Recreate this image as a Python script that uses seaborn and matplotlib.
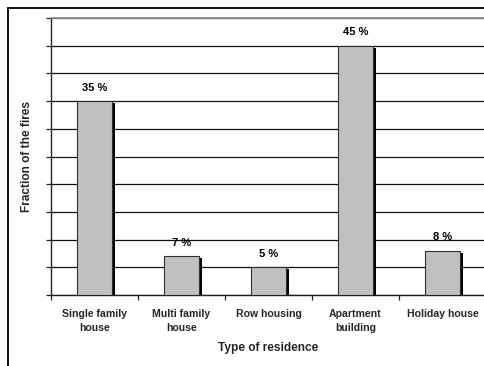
import matplotlib
matplotlib.use("Agg")
import matplotlib.pyplot as plt
import matplotlib.patheffects as pe
from matplotlib.patches import Rectangle
import seaborn as sns
import pandas as pd
import numpy as np

categories = ["Single family\nhouse", "Multi family\nhouse", "Row housing",
              "Apartment\nbuilding", "Holiday house"]
shares = [35, 7, 5, 45, 8]
value_labels = ["35 %", "7 %", "5 %", "45 %", "8 %"]

df = pd.DataFrame({"residence": categories, "share": shares})

sns.set_theme(style="white")
plt.rcParams["font.family"] = ["Liberation Sans", "DejaVu Sans"]
plt.rcParams["font.weight"] = "bold"

W, H = 484, 366
fig = plt.figure(figsize=(W / 100, H / 100), dpi=100)
fig.patch.set_facecolor("white")

# plot area in pixel terms: left 51, top 18, bottom 295, right 486
left, top, bottom, right = 51, 18, 295, 486
ax = fig.add_axes([left / W, (H - bottom) / H, (right - left) / W, (bottom - top) / H])

sns.barplot(data=df, x="residence", y="share", order=categories, ax=ax,
            color="#C0C0C0", width=0.4, edgecolor="#303030", linewidth=0.8,
            saturation=1, zorder=3)

for bar in ax.patches:
    bar.set_path_effects([
        pe.SimplePatchShadow(offset=(2.3, -1.4), shadow_rgbFace="black", alpha=1.0),
        pe.Normal(),
    ])

for i, (v, lab) in enumerate(zip(shares, value_labels)):
    ax.annotate(lab, (i, v), xytext=(0, 6), textcoords="offset points",
                ha="center", va="bottom", fontsize=8, fontweight="bold",
                color="black")

ax.set_ylim(0, 50)
ax.set_xlim(-0.5, len(categories) - 0.5)
ax.set_yticks(np.arange(0, 51, 5))
ax.set_yticklabels([])
ax.grid(axis="y", color="#101010", linewidth=0.9, zorder=0)
ax.set_axisbelow(True)

# boundaries carry the tick marks, centres carry the labels
ax.set_xticks(np.arange(-0.5, len(categories), 1.0))
ax.set_xticklabels([])
ax.set_xticks(np.arange(len(categories)), minor=True)
ax.set_xticklabels(categories, minor=True, fontsize=7.6, fontweight="bold",
                   linespacing=1.55)
ax.tick_params(axis="x", which="minor", length=0, pad=10)
ax.tick_params(axis="x", which="major", length=3.5, width=0.9, color="#202020",
               direction="out", bottom=True)
ax.tick_params(axis="y", length=3.5, width=0.9, color="#202020",
               direction="out", left=True)

ax.spines["right"].set_visible(False)
ax.spines["top"].set_color("#8c8c8c")
ax.spines["top"].set_linewidth(1.3)
ax.spines["left"].set_color("#202020")
ax.spines["left"].set_linewidth(1.0)
ax.spines["bottom"].set_color("#202020")
ax.spines["bottom"].set_linewidth(1.0)

ax.set_xlabel("Type of residence", fontsize=8.6, fontweight="bold", labelpad=6)
ax.set_ylabel("Fraction of the fires", fontsize=8.6, fontweight="bold", labelpad=6)

# chart frame, running off the right and bottom edges
fig.patches.append(Rectangle((8 / W, -0.1), 1.2, (H - 8) / H + 0.1,
                             transform=fig.transFigure, fill=False,
                             edgecolor="black", linewidth=1.3, clip_on=False))

fig.savefig("out.png", dpi=100)
